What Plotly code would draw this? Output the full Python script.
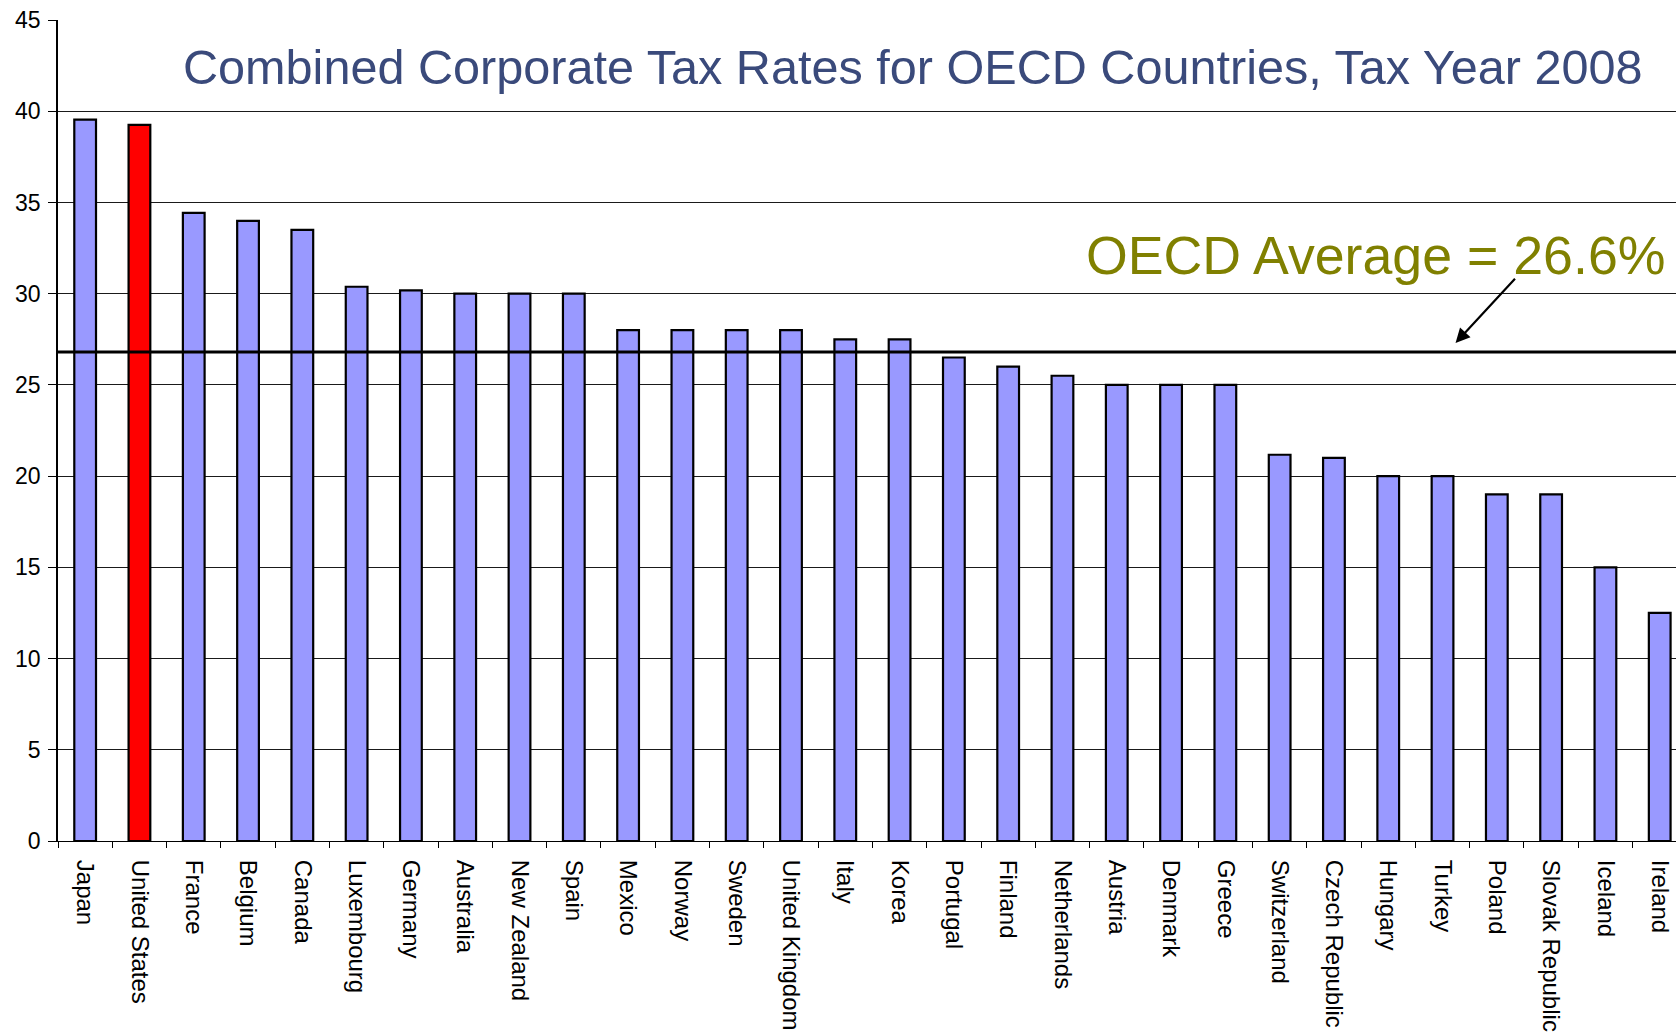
import plotly.graph_objects as go

countries = ["Japan", "United States", "France", "Belgium", "Canada", "Luxembourg",
             "Germany", "Australia", "New Zealand", "Spain", "Mexico", "Norway",
             "Sweden", "United Kingdom", "Italy", "Korea", "Portugal", "Finland",
             "Netherlands", "Austria", "Denmark", "Greece", "Switzerland",
             "Czech Republic", "Hungary", "Turkey", "Poland", "Slovak Republic",
             "Iceland", "Ireland"]
rates = [39.54, 39.25, 34.43, 33.99, 33.5, 30.38, 30.18, 30.0, 30.0, 30.0,
         28.0, 28.0, 28.0, 28.0, 27.5, 27.5, 26.5, 26.0, 25.5, 25.0,
         25.0, 25.0, 21.17, 21.0, 20.0, 20.0, 19.0, 19.0, 15.0, 12.5]
highlight = "United States"
oecd_average_line = 26.8
oecd_label = "OECD Average = 26.6%"
title_text = "Combined Corporate Tax Rates for OECD Countries, Tax Year 2008"
y_ticks = [0, 5, 10, 15, 20, 25, 30, 35, 40, 45]

colors = ["#FF0000" if c == highlight else "#9999FF" for c in countries]

FONT = "Liberation Sans, Arial, sans-serif"

fig = go.Figure()
fig.add_trace(go.Bar(
    x=countries, y=rates,
    marker=dict(color=colors, line=dict(color="#000000", width=2.2)),
    width=0.4,
    hoverinfo="x+y",
))

fig.add_shape(type="line", xref="paper", yref="y", x0=0, x1=1,
              y0=oecd_average_line, y1=oecd_average_line,
              line=dict(color="#000000", width=3), layer="above")

fig.add_annotation(text=title_text, xref="x", yref="y", x=1.76, y=42.45,
                   xanchor="left", yanchor="middle", showarrow=False,
                   font=dict(family=FONT, size=48.6, color="#3A4A7B"))

fig.add_annotation(text=oecd_label, xref="x", yref="y", x=29.13, y=32.1,
                   xanchor="right", yanchor="middle", showarrow=False,
                   font=dict(family=FONT, size=53.7, color="#808000"))

fig.add_annotation(x=25.24, y=27.3, ax=26.36, ay=30.9, xref="x", yref="y",
                   axref="x", ayref="y", text="", showarrow=True,
                   arrowhead=2, arrowsize=1.3, arrowwidth=2.2, arrowcolor="#000000",
                   standoff=0, startstandoff=0)

fig.update_layout(
    width=1676, height=1032,
    margin=dict(l=58, r=0, t=20, b=191, pad=0),
    plot_bgcolor="#FFFFFF", paper_bgcolor="#FFFFFF",
    showlegend=False,
    font=dict(family=FONT, color="#000000"),
    xaxis=dict(
        type="category", range=[-0.5, 29.3],
        tickangle=90, tickfont=dict(family=FONT, size=24, color="#000000"),
        tickson="boundaries", ticks="outside", ticklen=6, tickcolor="#000000",
        tickwidth=1, showline=True, linecolor="#000000", linewidth=1,
        ticklabelstandoff=13,
        showgrid=False, automargin=False, fixedrange=True,
    ),
    yaxis=dict(
        range=[0, 45], tickvals=y_ticks, ticktext=[str(v) for v in y_ticks],
        tickfont=dict(family=FONT, size=23, color="#000000"),
        ticks="outside", ticklen=8, tickcolor="#000000", tickwidth=1,
        ticklabelstandoff=3,
        showline=True, linecolor="#000000", linewidth=1.5,
        showgrid=True, gridcolor="#1A1A1A", gridwidth=1,
        zeroline=False, automargin=False, fixedrange=True,
    ),
)

fig.write_html("out.html")
